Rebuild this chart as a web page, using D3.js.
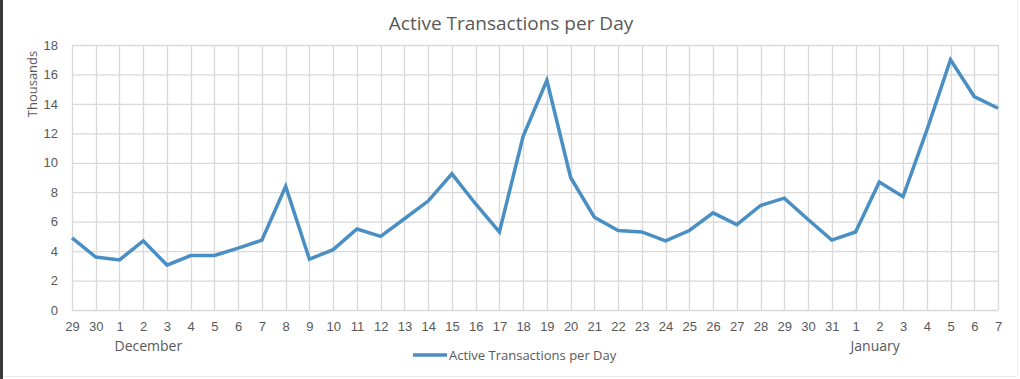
<!DOCTYPE html>
<html>
<head>
<meta charset="utf-8">
<script src="https://cdn.jsdelivr.net/npm/d3@7"></script>
<style>
  body { margin: 0; background: #fff; }
  svg { display: block; font-family: "Open Sans", "Liberation Sans", sans-serif; }
</style>
</head>
<body>
<div id="chart"></div>
<script>
// day labels along the x axis (Dec 29 .. Jan 7)
const days = ['29','30','1','2','3','4','5','6','7','8','9','10','11','12','13','14','15','16','17','18','19','20',
  '21','22','23','24','25','26','27','28','29','30','31','1','2','3','4','5','6','7']
// month labels sit under the first day of each month
const months = [{label: 'December', index: 2}, {label: 'January', index: 33}]
// active transactions, thousands
const values = [4.9, 3.6, 3.4, 4.7, 3.05, 3.7, 3.7, 4.2, 4.75, 8.4, 3.45, 4.1, 5.5, 5.0, 6.2, 7.4, 9.25, 7.2, 5.3, 11.8, 15.6, 9.0,
  6.3, 5.4, 5.3, 4.7, 5.4, 6.6, 5.8, 7.1, 7.6, 6.15, 4.75, 5.3, 8.7, 7.7, 12.2, 17.0, 14.5, 13.7]
const yTicks = [0, 2, 4, 6, 8, 10, 12, 14, 16, 18]

const seriesName = 'Active Transactions per Day'
const W = 1020, H = 379
const margin = {top: 45, left: 72, right: 22, bottom: 69}
const lineColor = '#4a8fc4'
const textColor = '#595959'
const gridColor = '#d9d9d9'

const svg = d3.select('#chart').append('svg')
  .attr('width', W)
  .attr('height', H)

// frame edges visible in the screenshot
svg.append('line').attr('x1', 1.5).attr('x2', 1.5).attr('y1', 0).attr('y2', H)
  .style('stroke', '#3a3a3a').style('stroke-width', 3)
svg.append('line').attr('x1', 3).attr('x2', W - 3).attr('y1', H - 2.5).attr('y2', H - 2.5)
  .style('stroke', '#ebebeb').style('stroke-width', 1)
svg.append('line').attr('x1', W - 2.5).attr('x2', W - 2.5).attr('y1', 0).attr('y2', H - 3)
  .style('stroke', '#f0f0f0').style('stroke-width', 1)

const x = d3.scalePoint()
  .domain(d3.range(days.length))
  .range([margin.left, W - margin.right])

const y = d3.scaleLinear()
  .domain([0, 18])
  .range([H - margin.bottom, margin.top])

// *** grid ***
const grid = svg.append('g').attr('class', 'grid')
grid.selectAll('.hgrid')
  .data(yTicks)
  .enter().append('line')
  .attr('x1', x(0)).attr('x2', x(days.length - 1))
  .attr('y1', d => y(d) + 0.5).attr('y2', d => y(d) + 0.5)
  .style('stroke', gridColor).style('stroke-width', 1.3)
grid.selectAll('.vgrid')
  .data(d3.range(days.length))
  .enter().append('line')
  .attr('x1', d => Math.round(x(d)) + 0.5).attr('x2', d => Math.round(x(d)) + 0.5)
  .attr('y1', y(18)).attr('y2', y(0))
  .style('stroke', gridColor).style('stroke-width', 1.3)

// *** axes ***
const yAxis = d3.axisLeft(y).tickValues(yTicks).tickSize(0).tickPadding(0)
svg.append('g')
  .attr('transform', `translate(${margin.left - 14}, 0)`)
  .call(yAxis)
  .call(g => g.select('.domain').remove())
  .selectAll('text')
  .style('font-size', '13px').style('fill', textColor)

const xAxis = d3.axisBottom(x).tickFormat(i => days[i]).tickSize(0).tickPadding(0)
svg.append('g')
  .attr('transform', `translate(0, ${y(0) + 12})`)
  .call(xAxis)
  .call(g => g.select('.domain').remove())
  .selectAll('text')
  .style('font-size', '13px').style('fill', textColor)

svg.selectAll('.month')
  .data(months)
  .enter().append('text')
  .attr('class', 'month')
  .attr('x', d => x(d.index) - 5)
  .attr('y', y(0) + 41)
  .style('font-size', '14px').style('fill', textColor)
  .text(d => d.label)

// axis title
svg.append('text')
  .attr('transform', `translate(37, 84) rotate(-90)`)
  .attr('text-anchor', 'middle')
  .style('font-size', '13px').style('fill', textColor)
  .text('Thousands')

// chart title
svg.append('text')
  .attr('x', 511).attr('y', 30)
  .attr('text-anchor', 'middle')
  .style('font-size', '19px').style('fill', textColor)
  .text(seriesName)

// *** series ***
const line = d3.line()
  .x((d, i) => x(i))
  .y(d => y(d))

svg.append('path')
  .attr('d', line(values))
  .style('fill', 'none')
  .style('stroke', lineColor)
  .style('stroke-width', 3.5)
  .style('stroke-linejoin', 'miter')

// *** legend ***
const legend = svg.append('g').attr('transform', `translate(413, 355)`)
legend.append('line')
  .attr('x1', 0).attr('x2', 34).attr('y1', 0).attr('y2', 0)
  .style('stroke', lineColor).style('stroke-width', 3.5)
legend.append('text')
  .attr('x', 36).attr('y', 5)
  .style('font-size', '13px').style('fill', textColor)
  .text(seriesName)
</script>
</body>
</html>
